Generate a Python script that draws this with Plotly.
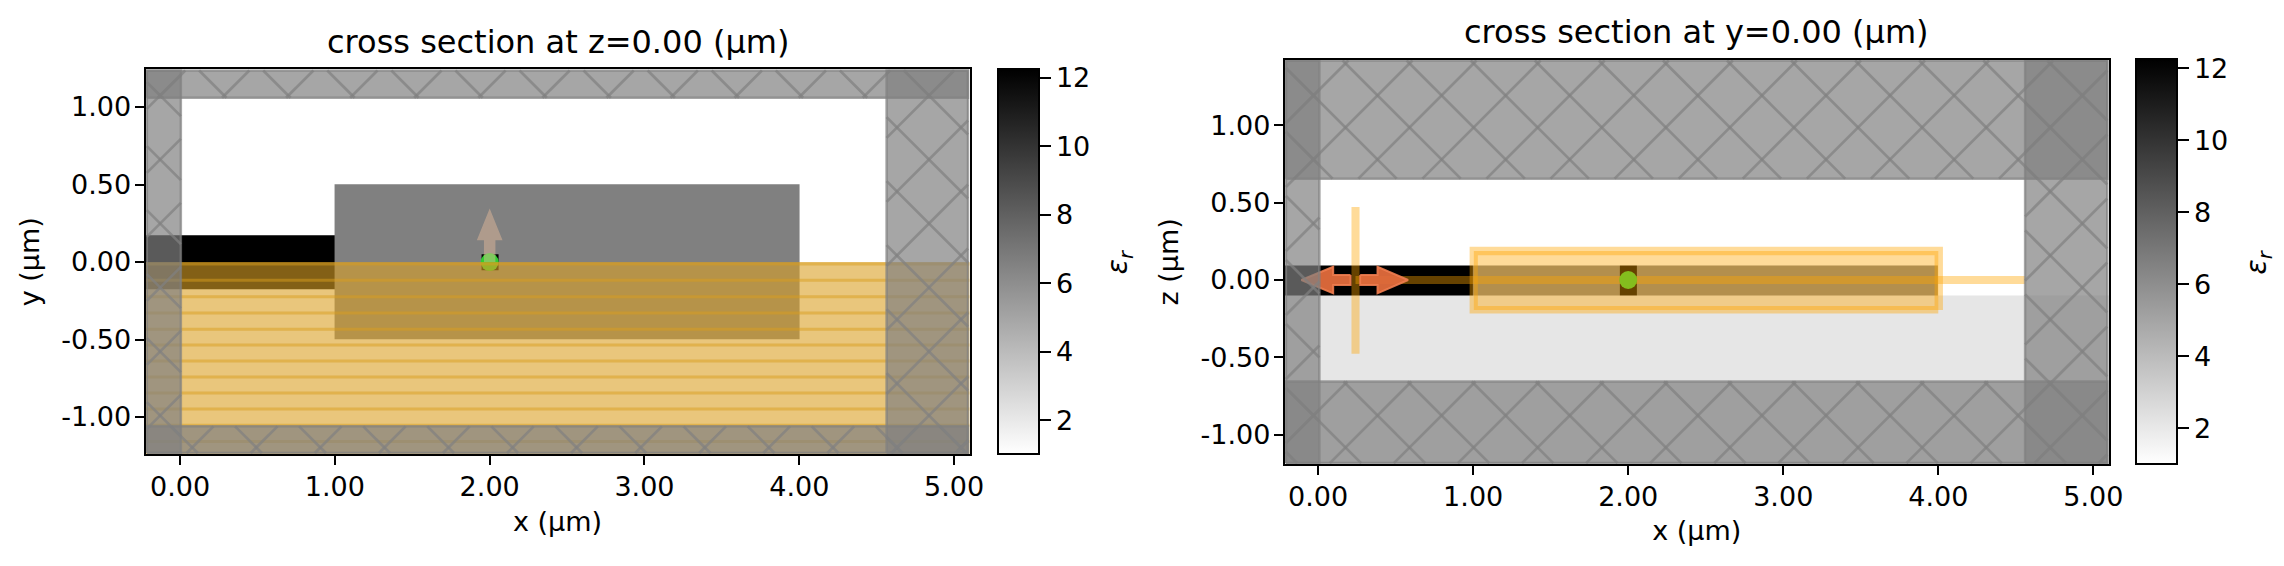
"""Permittivity cross sections with PML, monitors and sources overlaid."""
import plotly.graph_objects as go

W, H = 2284, 566
# the colorbar pushes the right margin, paper fractions are relative to this width
PLOT_W = 2267.5
FONT = "DejaVu Sans"
TICK_SIZE = 27

# pixel box of each panel: left, right, top, bottom
BOX_Z = (145.4, 968.5, 69.2, 454.4)
BOX_Y = (1283.4, 2106.5, 59.5, 464.2)
CBAR_Z_X = 996.5
CBAR_Y_X = 2134.0
HATCH_STEP = 64.0
HATCH_PHASE = 63.5

X_RANGE_Z = [-0.223, 5.10]
Y_RANGE_Z = [-1.241, 1.244]
X_RANGE_Y = [-0.215, 5.10]
Y_RANGE_Y = [-1.192, 1.427]

TICK_X = [0, 1, 2, 3, 4, 5]
TICK_X_TEXT = ["0.00", "1.00", "2.00", "3.00", "4.00", "5.00"]
TICK_Y = [-1, -0.5, 0, 0.5, 1]
TICK_Y_TEXT = ["-1.00", "-0.50", "0.00", "0.50", "1.00"]
TICK_CBAR = [2, 4, 6, 8, 10, 12]

EPS_MIN = 1.0
EPS_MAX = 12.25

# permittivity map, z=0 cut
EPS_Z_X = [-0.223, 1.0, 1.945, 2.055, 4.0, 5.10]
EPS_Z_Y = [-1.241, -0.5, -0.175, -0.05, 0.05, 0.175, 0.5, 1.244]
EPS_Z = [
    [1.0, 1.0, 1.0, 1.0, 1.0],
    [1.0, 6.6, 6.6, 6.6, 1.0],
    [12.25, 6.6, 6.6, 6.6, 1.0],
    [12.25, 6.6, 12.25, 6.6, 1.0],
    [12.25, 6.6, 6.6, 6.6, 1.0],
    [1.0, 6.6, 6.6, 6.6, 1.0],
    [1.0, 1.0, 1.0, 1.0, 1.0],
]

# permittivity map, y=0 cut
EPS_Y_X = [-0.215, 1.0, 1.945, 2.055, 4.0, 5.10]
EPS_Y_Z = [-1.192, -0.097, 0.097, 1.427]
EPS_Y = [
    [2.1, 2.1, 2.1, 2.1, 2.1],
    [12.25, 6.6, 12.25, 6.6, 1.0],
    [1.0, 1.0, 1.0, 1.0, 1.0],
]

# pml extents
PML_Z_X = [-0.215, 0.005, 4.564, 5.09]
PML_Z_Y = [-1.232, -1.06, 1.06, 1.236]
PML_Y_X = [-0.208, 0.008, 4.56, 5.09]
PML_Y_Z = [-1.185, -0.657, 0.656, 1.42]

# z=0 panel monitor
MONITOR_Z_X = [-0.223, 5.10]
MONITOR_Z_Y = [-1.241, 0.0]
MONITOR_LINES = [-0.012, -0.118, -0.224, -0.329, -0.433, -0.536, -0.638, -0.741, -0.845, -0.948, -1.053, -1.158]

# y=0 panel monitor and source planes
BOX_FILL_X = [1.004, 4.0]
BOX_FILL_Z = [-0.194, 0.187]
BOX_RING_X = [0.977, 4.03, 4.03, 4.0, 4.0, 0.977, 0.977, 1.03, 1.03, 3.976, 3.976, 1.03, 1.03, 0.977]
BOX_RING_Z = [0.215, 0.215, -0.194, -0.194, -0.217, -0.217, 0.0, 0.0, -0.168, -0.168, 0.161, 0.161, 0.0, 0.0]
BAND_X = [0.241, 4.56]
BAND_Z = [-0.026, 0.026]
PLANE_X = [0.215, 0.267]
PLANE_Z = [-0.477, 0.472]

# point monitor
POINT_X = [2.0]
POINT_Y = [0.0]

# arrows as start, tip
ARROW_UP = (2.0, 0.0, 0.346)
ARROW_LEFT = (0.209, -0.108, 0.0)
ARROW_RIGHT = (0.271, 0.58, 0.0)

ORANGE = "rgba(255,165,0,0.4)"
MONITOR_FILL = "rgba(218,160,36,0.6)"
MONITOR_LINE = "rgba(218,158,30,0.5)"
PML_GRAY = "rgba(128,128,128,0.7)"
LIME = "#32cd32"


def rect_xy(xs, ys):
    return [xs[0], xs[1], xs[1], xs[0], xs[0]], [ys[0], ys[0], ys[1], ys[1], ys[0]]


def fill_trace(xs, ys, color, axes, line_color=None, line_width=0):
    return go.Scatter(
        x=xs, y=ys, mode="lines", fill="toself", fillcolor=color,
        line=dict(color=line_color or "rgba(0,0,0,0)", width=line_width),
        hoverinfo="skip", showlegend=False, xaxis=axes[0], yaxis=axes[1],
    )


def hatch_lines(xs, ys, box, x_range, y_range):
    # matplotlib 'x' hatch is anchored to the figure, so work in pixels
    left, right, top, bottom = box
    sx = (right - left) / (x_range[1] - x_range[0])
    sy = (bottom - top) / (y_range[1] - y_range[0])
    x0 = left + (xs[0] - x_range[0]) * sx
    x1 = left + (xs[1] - x_range[0]) * sx
    y0 = top + (y_range[1] - ys[1]) * sy
    y1 = top + (y_range[1] - ys[0]) * sy

    out_x, out_y = [], []

    def add(ax, ay, bx, by):
        out_x.extend([x_range[0] + (ax - left) / sx, x_range[0] + (bx - left) / sx, None])
        out_y.extend([y_range[1] - (ay - top) / sy, y_range[1] - (by - top) / sy, None])

    for n in range(-60, 60):
        # y = x + c
        c = HATCH_PHASE + n * HATCH_STEP
        a = max(x0, y0 - c)
        b = min(x1, y1 - c)
        if a < b:
            add(a, a + c, b, b + c)
    for n in range(0, 60):
        # y = -x + c
        c = HATCH_PHASE + n * HATCH_STEP
        a = max(x0, c - y1)
        b = min(x1, c - y0)
        if a < b:
            add(a, c - a, b, c - b)
    return out_x, out_y


def arrow_xy(start, tip, mid, head_base, shaft_half, head_half, vertical):
    along = [start, head_base, head_base, tip, head_base, head_base, start, start]
    across = [shaft_half, shaft_half, head_half, 0, -head_half, -shaft_half, -shaft_half, shaft_half]
    across = [mid + a for a in across]
    return (across, along) if vertical else (along, across)


def add_pml(fig, pml_x, pml_y, box, x_range, y_range, axes):
    blocks = [
        ([pml_x[0], pml_x[1]], [pml_y[0], pml_y[3]]),
        ([pml_x[2], pml_x[3]], [pml_y[0], pml_y[3]]),
        ([pml_x[0], pml_x[3]], [pml_y[0], pml_y[1]]),
        ([pml_x[0], pml_x[3]], [pml_y[2], pml_y[3]]),
    ]
    for xs, ys in blocks:
        px, py = rect_xy(xs, ys)
        fig.add_trace(fill_trace(px, py, PML_GRAY, axes, PML_GRAY, 2.5))
        hx, hy = hatch_lines(xs, ys, box, x_range, y_range)
        fig.add_trace(go.Scatter(x=hx, y=hy, mode="lines", line=dict(color=PML_GRAY, width=2.7),
                                 hoverinfo="skip", showlegend=False, xaxis=axes[0], yaxis=axes[1]))


def eps_heatmap(x, y, z, cbar_x, box, axes):
    return go.Heatmap(
        x=x, y=y, z=z, zmin=EPS_MIN, zmax=EPS_MAX,
        colorscale=[[0, "#ffffff"], [1, "#000000"]],
        hoverinfo="skip", xaxis=axes[0], yaxis=axes[1],
        colorbar=dict(
            x=cbar_x / PLOT_W, xanchor="left", xref="paper",
            y=1 - box[3] / H, yanchor="bottom", yref="paper",
            len=(box[3] - box[2]) / H, lenmode="fraction",
            thickness=41, thicknessmode="pixels", xpad=0, ypad=0,
            outlinewidth=2, outlinecolor="black",
            ticks="outside", ticklen=11, tickwidth=2, tickcolor="black",
            tickvals=TICK_CBAR, tickfont=dict(family=FONT, size=TICK_SIZE, color="black"),
        ),
    )


fig = go.Figure()
AX_Z = ("x", "y")
AX_Y = ("x2", "y2")

# z=0 cut
fig.add_trace(eps_heatmap(EPS_Z_X, EPS_Z_Y, EPS_Z, CBAR_Z_X, BOX_Z, AX_Z))
fig.add_trace(go.Scatter(x=POINT_X, y=POINT_Y, mode="markers", marker=dict(color=LIME, size=18),
                         hoverinfo="skip", showlegend=False))
mx, my = rect_xy(MONITOR_Z_X, MONITOR_Z_Y)
fig.add_trace(fill_trace(mx, my, MONITOR_FILL, AX_Z))
line_x, line_y = [], []
for value in MONITOR_LINES:
    line_x.extend([MONITOR_Z_X[0], MONITOR_Z_X[1], None])
    line_y.extend([value, value, None])
fig.add_trace(go.Scatter(x=line_x, y=line_y, mode="lines", line=dict(color=MONITOR_LINE, width=3),
                         hoverinfo="skip", showlegend=False))
ax, ay = arrow_xy(ARROW_UP[1], ARROW_UP[2], ARROW_UP[0], 0.14, 0.037, 0.083, True)
fig.add_trace(fill_trace(ax, ay, "rgba(240,192,158,0.42)", AX_Z))
add_pml(fig, PML_Z_X, PML_Z_Y, BOX_Z, X_RANGE_Z, Y_RANGE_Z, AX_Z)

# y=0 cut
fig.add_trace(eps_heatmap(EPS_Y_X, EPS_Y_Z, EPS_Y, CBAR_Y_X, BOX_Y, AX_Y))
bx, by = rect_xy(PLANE_X, PLANE_Z)
fig.add_trace(fill_trace(bx, by, ORANGE, AX_Y))
bx, by = rect_xy(BAND_X, BAND_Z)
fig.add_trace(fill_trace(bx, by, ORANGE, AX_Y))
fig.add_trace(go.Scatter(x=POINT_X, y=POINT_Y, mode="markers", marker=dict(color=LIME, size=18),
                         hoverinfo="skip", showlegend=False, xaxis="x2", yaxis="y2"))
bx, by = rect_xy(BOX_FILL_X, BOX_FILL_Z)
fig.add_trace(fill_trace(bx, by, ORANGE, AX_Y))
fig.add_trace(fill_trace(BOX_RING_X, BOX_RING_Z, ORANGE, AX_Y))
for start, tip, base in [(ARROW_LEFT[0], ARROW_LEFT[1], 0.097), (ARROW_RIGHT[0], ARROW_RIGHT[1], 0.383)]:
    ax, ay = arrow_xy(start, tip, 0.0, base, 0.032, 0.086, False)
    fig.add_trace(fill_trace(ax, ay, "rgba(226,108,60,0.95)", AX_Y, "rgba(240,125,80,0.9)", 2))
add_pml(fig, PML_Y_X, PML_Y_Z, BOX_Y, X_RANGE_Y, Y_RANGE_Y, AX_Y)


def axis_style(title, tickvals, ticktext, rng, standoff):
    return dict(
        range=rng, tickmode="array", tickvals=tickvals, ticktext=ticktext,
        ticks="outside", ticklen=9, tickwidth=2, tickcolor="black", ticklabelstandoff=-2,
        tickfont=dict(family=FONT, size=TICK_SIZE, color="black"),
        title=dict(text=title, font=dict(family=FONT, size=TICK_SIZE, color="black"), standoff=standoff),
        showline=True, linewidth=2, linecolor="black", mirror=True,
        showgrid=False, zeroline=False,
    )


fig.update_layout(
    width=W, height=H, margin=dict(l=0, r=0, t=0, b=0), autosize=False,
    paper_bgcolor="white", plot_bgcolor="white", showlegend=False,
    xaxis=dict(domain=[BOX_Z[0] / PLOT_W, BOX_Z[1] / PLOT_W], anchor="y",
               **axis_style("x (µm)", TICK_X, TICK_X_TEXT, X_RANGE_Z, 11)),
    yaxis=dict(domain=[1 - BOX_Z[3] / H, 1 - BOX_Z[2] / H], anchor="x",
               **axis_style("y (µm)", TICK_Y, TICK_Y_TEXT, Y_RANGE_Z, 14)),
    xaxis2=dict(domain=[BOX_Y[0] / PLOT_W, BOX_Y[1] / PLOT_W], anchor="y2",
                **axis_style("x (µm)", TICK_X, TICK_X_TEXT, X_RANGE_Y, 11)),
    yaxis2=dict(domain=[1 - BOX_Y[3] / H, 1 - BOX_Y[2] / H], anchor="x2",
                **axis_style("z (µm)", TICK_Y, TICK_Y_TEXT, Y_RANGE_Y, 14)),
)

annotations = [
    ("cross section at z=0.00 (µm)", (BOX_Z[0] + BOX_Z[1]) / 2, 42, 32, 0),
    ("cross section at y=0.00 (µm)", (BOX_Y[0] + BOX_Y[1]) / 2, 32, 32, 0),
    ("<i>ε<sub>r</sub></i>", 1118, 262, 28, -90),
    ("<i>ε<sub>r</sub></i>", 2256, 262, 28, -90),
]
for text, px, py, size, angle in annotations:
    fig.add_annotation(text=text, x=px / PLOT_W, y=1 - py / H, xref="paper", yref="paper",
                       showarrow=False, textangle=angle, xanchor="center", yanchor="middle",
                       font=dict(family=FONT, size=size, color="black"))

fig.write_html("out.html", config={"displayModeBar": False}, post_script="document.body.style.margin='0';")
